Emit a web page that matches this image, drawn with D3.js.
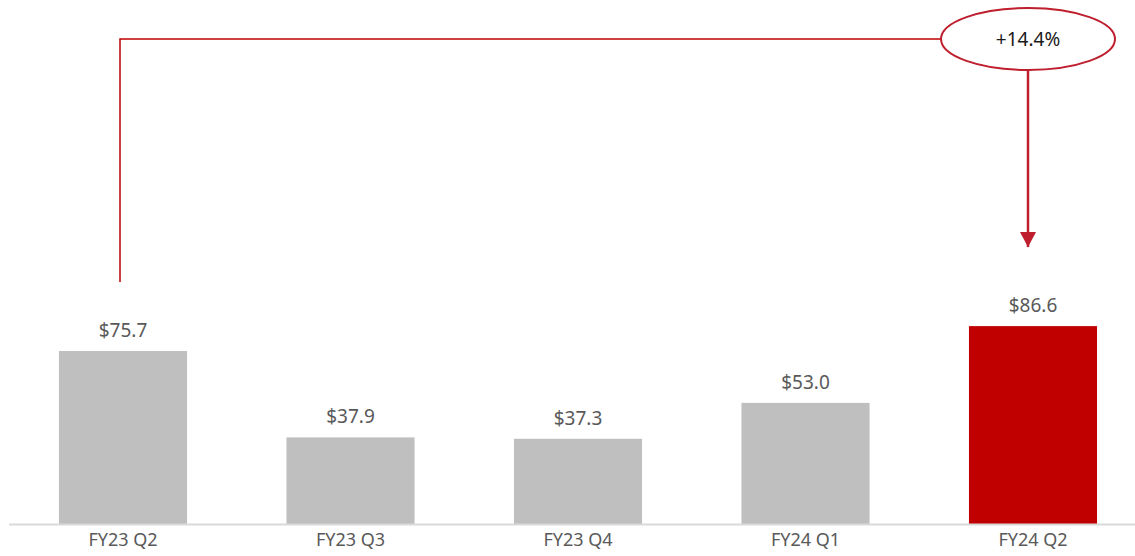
<!DOCTYPE html>
<html lang="en">
<head>
<meta charset="utf-8">
<title>Quarterly values</title>
<script src="https://d3js.org/d3.v7.min.js"></script>
<style>
  body { margin: 0; background: #fff; }
  text { font-family: "Noto Sans", sans-serif; }
</style>
</head>
<body>
<script>
// data
var quarters = ["FY23 Q2", "FY23 Q3", "FY23 Q4", "FY24 Q1", "FY24 Q2"];
var values = [75.7, 37.9, 37.3, 53.0, 86.6];
var growthLabel = "+14.4%";

var w = 1135, h = 556;
var baseY = 524;

var svg = d3.select("body").append("svg")
  .attr("width", w)
  .attr("height", h);

// scales
var x = d3.scaleBand()
  .domain(quarters)
  .range([9.25, 1146.75])
  .paddingInner(0.437)
  .paddingOuter(0.2185);

var y = d3.scaleLinear()
  .domain([0, 100])
  .range([baseY, baseY - 228.5]);

// bars
svg.selectAll("rect.bar")
  .data(values)
  .enter()
  .append("rect")
  .attr("class", "bar")
  .attr("x", function(d, i) { return x(quarters[i]); })
  .attr("y", function(d) { return y(d); })
  .attr("width", x.bandwidth())
  .attr("height", function(d) { return baseY - y(d); })
  .attr("fill", function(d, i) { return i == values.length - 1 ? "#c00000" : "#bfbfbf"; });

// value labels
svg.selectAll("text.val")
  .data(values)
  .enter()
  .append("text")
  .attr("class", "val")
  .attr("x", function(d, i) { return x(quarters[i]) + x.bandwidth() / 2; })
  .attr("y", function(d) { return y(d) - 14; })
  .attr("text-anchor", "middle")
  .attr("font-size", 19)
  .attr("fill", "#595959")
  .text(function(d) { return "$" + d.toFixed(1); });

// x axis
var xAxis = d3.axisBottom(x).tickSize(0).tickPadding(9);
var gx = svg.append("g")
  .attr("transform", "translate(0," + baseY + ")")
  .call(xAxis);
gx.select(".domain").remove();
gx.append("line")
  .attr("x1", 9).attr("x2", w)
  .attr("y1", 0.5).attr("y2", 0.5)
  .attr("stroke", "#d9d9d9")
  .attr("stroke-width", 2);
gx.selectAll(".tick text")
  .attr("font-size", 18)
  .attr("font-family", "Noto Sans, sans-serif")
  .attr("fill", "#595959");

// growth connector
var red = "#be1e2d";
var first = quarters[0], last = quarters[quarters.length - 1];
var x0 = x(first) + x.bandwidth() / 2 - 3;
var x1 = x(last) + x.bandwidth() / 2 - 5;
var topY = 39;
var ex = x1, ery = 31, erx = 87;

// arrowhead drawn as its own triangle, 16 wide x 15 tall
svg.append("defs").append("marker")
  .attr("id", "arrow")
  .attr("viewBox", "0 0 15 16")
  .attr("refX", 15).attr("refY", 8)
  .attr("markerWidth", 15).attr("markerHeight", 16)
  .attr("markerUnits", "userSpaceOnUse")
  .attr("orient", "auto")
  .append("path")
  .attr("d", "M0,0 L15,8 L0,16 Z")
  .attr("fill", red);

svg.append("path")
  .attr("d", "M" + x0 + "," + (y(values[0]) - 69) + " V" + topY + " H" + (ex - erx))
  .attr("fill", "none")
  .attr("stroke", "#c00000")
  .attr("stroke-width", 1.5);

svg.append("line")
  .attr("x1", x1).attr("x2", x1)
  .attr("y1", topY + ery).attr("y2", y(values[values.length - 1]) - 79)
  .attr("stroke", red)
  .attr("stroke-width", 2.5)
  .attr("marker-end", "url(#arrow)");

svg.append("ellipse")
  .attr("cx", ex).attr("cy", topY)
  .attr("rx", erx).attr("ry", ery)
  .attr("fill", "#fff")
  .attr("stroke", red)
  .attr("stroke-width", 2);

svg.append("text")
  .attr("x", ex).attr("y", topY + 7)
  .attr("text-anchor", "middle")
  .attr("font-size", 19)
  .attr("fill", "#1a1a1a")
  .text(growthLabel);
</script>
</body>
</html>
